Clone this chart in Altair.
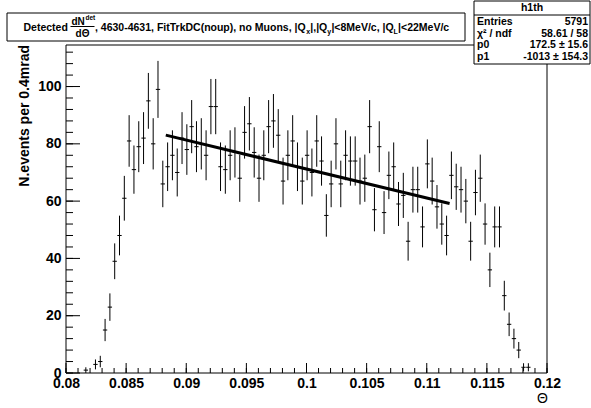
import altair as alt
import numpy as np
import pandas as pd

# ---------------- data ----------------
bin_index = [4, 6, 7, 8, 9, 10, 11, 12, 13, 14, 15, 16, 17, 18, 19,
             20, 21, 22, 23, 24, 25, 26, 27, 28, 29,
             30, 31, 32, 33, 34, 35, 36, 37, 38, 39,
             40, 41, 42, 43, 44, 45, 46, 47, 48, 49,
             50, 51, 52, 53, 54, 55, 56, 57, 58, 59,
             60, 61, 62, 63, 64, 65, 66, 67, 68, 69,
             70, 71, 72, 73, 74, 75, 76, 77, 78, 79,
             80, 81, 82, 83, 84, 85, 86, 87, 88, 89,
             90, 91, 92, 93, 94, 95, 96]
counts = [1, 3, 4, 15, 23, 39, 48, 61, 81, 71, 79, 82, 95, 80, 99,
          66, 72, 76, 70, 82, 78, 86, 79, 80, 76,
          93, 93, 72, 71, 76, 77, 68, 84, 87, 77,
          68, 76, 86, 88, 83, 67, 76, 81, 72, 67,
          76, 70, 81, 74, 55, 66, 80, 66, 76, 74,
          74, 67, 68, 86, 57, 79, 56, 69, 72, 59,
          62, 46, 64, 64, 51, 73, 67, 58, 52, 48,
          69, 65, 64, 60, 46, 63, 68, 52, 36, 51,
          51, 27, 17, 12, 8, 2, 2]
theta_first = 0.08005
bin_width = 0.0004

fit_p0 = 172.5
fit_p1 = -1013.0
fit_range = [0.0883, 0.1119]

x_major = [0.08, 0.085, 0.09, 0.095, 0.1, 0.105, 0.11, 0.115, 0.12]
x_minor = [round(0.08 + 0.001 * k, 4) for k in range(41)]
y_major = [0, 20, 40, 60, 80, 100]
y_minor = [4 * k for k in range(29)]

title_parts = ["Detected", "dN", "det", "d\u0398",
               ", 4630-4631, FitTrkDC(noup), no Muons, |Q", "x",
               "|,|Q", "y", "|<8MeV/c, |Q", "L", "|<22MeV/c"]
stats_name = "h1th"
stats_labels = ["Entries", "\u03c7\u00b2 / ndf", "p0", "p1"]
stats_values = ["5791", "58.61 / 58", "172.5 \u00b1 15.6", "-1013 \u00b1 154.3"]
y_title = "N.events per 0.4mrad"
x_title = "\u0398"

# ---------------- layout ----------------
W, H = 481, 328
PL, PT = 66, 45
FONT = "Liberation Sans"

n = np.array(counts, dtype=float)
th = theta_first + bin_width * np.array(bin_index)
err = np.sqrt(n)
df = pd.DataFrame({"theta": th, "n": n, "lo": n - err, "hi": n + err,
                   "xl": th - 0.00018, "xr": th + 0.00018})
fit_df = pd.DataFrame({"theta": fit_range,
                       "n": [fit_p0 + fit_p1 * v for v in fit_range]})

xscale = alt.Scale(domain=[0.08, 0.12], nice=False, zero=False)
yscale = alt.Scale(domain=[0, 114.5], nice=False, zero=False)
xaxis = alt.Axis(values=x_major, format=".3~f", ticks=False, domain=False, grid=False,
                 labelFont=FONT, labelFontSize=14, labelFontWeight="bold",
                 labelColor="black", labelPadding=3, labelFlush=False,
                 labelOverlap=False, labelBound=False, title=None)
yaxis = alt.Axis(values=y_major, ticks=False, domain=False, grid=False,
                 labelFont=FONT, labelFontSize=14, labelFontWeight="bold",
                 labelColor="black", labelPadding=5, labelFlush=False,
                 labelOverlap=False, labelBound=False, title=None)


def X(field):
    return alt.X(field, type="quantitative", scale=xscale, axis=xaxis)


def Y(field):
    return alt.Y(field, type="quantitative", scale=yscale, axis=yaxis)


one = alt.Data(values=[{}])
layers = []

# error bars
layers.append(alt.Chart(df).mark_rule(color="black", strokeWidth=1).encode(
    x=X("theta"), y=Y("lo"), y2="hi"))
layers.append(alt.Chart(df).mark_rule(color="black", strokeWidth=1).encode(
    x=X("xl"), x2="xr", y=Y("n")))
# fit
layers.append(alt.Chart(fit_df).mark_line(color="black", strokeWidth=3).encode(
    x=X("theta"), y=Y("n")))

# frame
layers.append(alt.Chart(one).mark_rect(fillOpacity=0, stroke="black", strokeWidth=1).encode(
    x=alt.value(0), x2=alt.value(W), y=alt.value(0), y2=alt.value(H)))

# ticks (inside)
xmaj_df = pd.DataFrame({"t": x_major})
xmin_df = pd.DataFrame({"t": x_minor})
ymaj_df = pd.DataFrame({"t": y_major})
ymin_df = pd.DataFrame({"t": y_minor})
layers.append(alt.Chart(xmaj_df).mark_rule(color="black").encode(
    x=X("t"), y=alt.value(H), y2=alt.value(H - 10)))
layers.append(alt.Chart(xmin_df).mark_rule(color="black").encode(
    x=X("t"), y=alt.value(H), y2=alt.value(H - 5)))
layers.append(alt.Chart(ymaj_df).mark_rule(color="black").encode(
    y=Y("t"), x=alt.value(0), x2=alt.value(14)))
layers.append(alt.Chart(ymin_df).mark_rule(color="black").encode(
    y=Y("t"), x=alt.value(0), x2=alt.value(7)))

# axis titles
layers.append(alt.Chart(one).mark_text(
    text=y_title, angle=270, align="right", baseline="middle",
    font=FONT, fontSize=14, fontWeight="bold", color="black").encode(
    x=alt.value(25 - PL), y=alt.value(45 - PT)))
layers.append(alt.Chart(one).mark_text(
    text=x_title, align="right", baseline="middle",
    font=FONT, fontSize=14, color="black").encode(
    x=alt.value(548 - PL), y=alt.value(399 - PT)))


def rect(x1, x2, y1, y2):
    return alt.Chart(one).mark_rect(fill="white", stroke="black", strokeWidth=1).encode(
        x=alt.value(x1 - PL), x2=alt.value(x2 - PL),
        y=alt.value(y1 - PT), y2=alt.value(y2 - PT))


def txt(s, x, y, size=10.5, align="left", baseline="alphabetic", weight="bold"):
    return alt.Chart(one).mark_text(
        text=s, align=align, baseline=baseline, font=FONT, fontSize=size,
        fontWeight=weight, color="black").encode(
        x=alt.value(x - PL), y=alt.value(y - PT))


def hline(x1, x2, y):
    return alt.Chart(one).mark_rule(color="black", strokeWidth=1).encode(
        x=alt.value(x1 - PL), x2=alt.value(x2 - PL), y=alt.value(y - PT))


# title box
layers.append(rect(7, 465, 13, 41))
X0 = 23.5
base = 31
sub = 34
layers.append(txt(title_parts[0], X0, base))
layers.append(txt(title_parts[1], X0 + 48, 24.5, size=10))
layers.append(txt(title_parts[2], X0 + 62, 20, size=6.5))
layers.append(hline(X0 + 47, X0 + 71, 26.5))
layers.append(txt(title_parts[3], X0 + 59, 36.5, size=10, align="center"))
layers.append(txt(title_parts[4], X0 + 71.5, base))
layers.append(txt(title_parts[5], X0 + 282.7, sub, size=7))
layers.append(txt(title_parts[6], X0 + 286.8, base))
layers.append(txt(title_parts[7], X0 + 303.8, sub, size=7))
layers.append(txt(title_parts[8], X0 + 307.9, base))
layers.append(txt(title_parts[9], X0 + 370.1, sub, size=7))
layers.append(txt(title_parts[10], X0 + 374.6, base))

# stats box
layers.append(rect(474, 590, 1, 64))
layers.append(hline(474, 590, 15))
layers.append(txt(stats_name, 532, 8, size=10.5, align="center", baseline="middle"))
row_y = [22, 33.5, 45, 56.5]
for lab, val, yy in zip(stats_labels, stats_values, row_y):
    layers.append(txt(lab, 477, yy, baseline="middle"))
    layers.append(txt(val, 588, yy, align="right", baseline="middle"))

chart = alt.layer(*layers).properties(
    width=W, height=H,
    padding={"left": PL, "top": PT, "right": 591 - PL - W, "bottom": 408 - PT - H},
    autosize=alt.AutoSizeParams(type="none"),
    background="white",
).configure_view(strokeWidth=0)

chart.save("out.html", embed_options={"renderer": "svg", "actions": False})
